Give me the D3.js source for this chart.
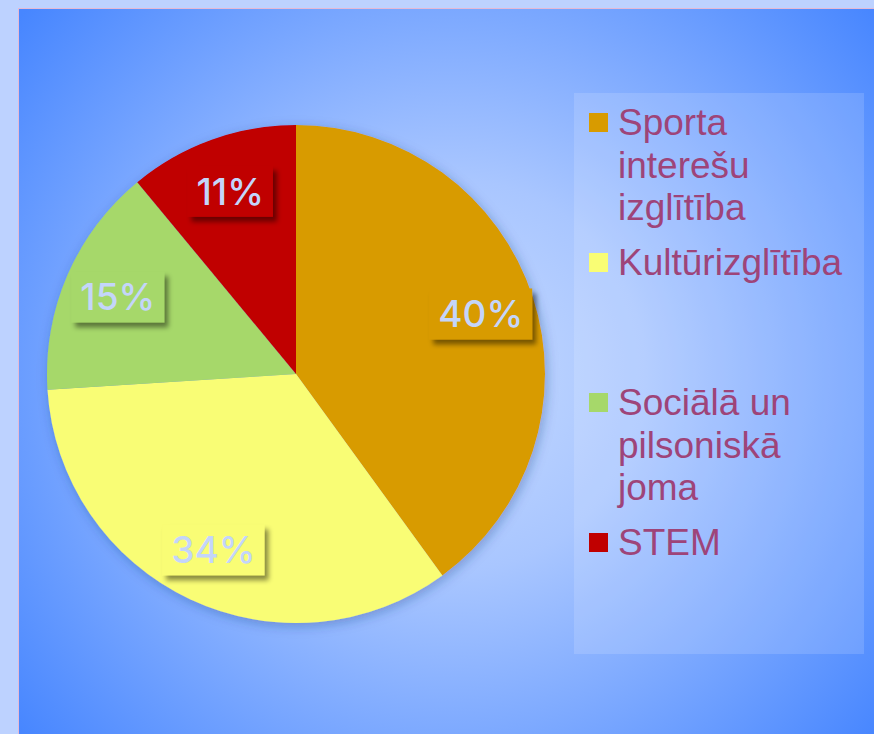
<!DOCTYPE html>
<html>
<head>
<meta charset="utf-8">
<script src="https://cdn.jsdelivr.net/npm/d3@7"></script>
<style>
  html, body { margin: 0; padding: 0; background: #BDD2FF; }
  svg { display: block; }
</style>
</head>
<body>
<svg id="chart" width="874" height="734"></svg>
<script>
// Interest-education areas and their shares (%)
const categories = ["Sporta interešu izglītība", "Kultūrizglītība", "Sociālā un pilsoniskā joma", "STEM"];
const shares = [40, 34, 15, 11];
const colors = ["#D89B00", "#F9FD74", "#A6D86A", "#C00000"];

const W = 874, H = 734;
const svg = d3.select("#chart");
const defs = svg.append("defs");

// Outer page tint and framed chart area with radial blue gradient
svg.append("rect").attr("width", W).attr("height", H).attr("fill", "#BDD2FF");

const area = { x: 19, y: 9, w: W - 19, h: H - 9 };
const grad = defs.append("radialGradient")
  .attr("id", "bg").attr("gradientUnits", "userSpaceOnUse")
  .attr("cx", 450).attr("cy", 375).attr("r", 560);
grad.append("stop").attr("offset", 0).attr("stop-color", "#C6DAFF");
grad.append("stop").attr("offset", 0.35).attr("stop-color", "#A9C6FF");
grad.append("stop").attr("offset", 1).attr("stop-color", "#4786FF");

svg.append("rect")
  .attr("x", area.x - 1).attr("y", area.y - 1)
  .attr("width", area.w + 2).attr("height", area.h + 2)
  .attr("fill", "#E4B9D6");
svg.append("rect")
  .attr("x", area.x).attr("y", area.y)
  .attr("width", area.w).attr("height", area.h)
  .attr("fill", "url(#bg)");

// Shadows
const pieShadow = defs.append("filter").attr("id", "pieShadow")
  .attr("x", "-20%").attr("y", "-20%").attr("width", "140%").attr("height", "140%");
pieShadow.append("feDropShadow").attr("dx", 2).attr("dy", 3).attr("stdDeviation", 6)
  .attr("flood-color", "#1d3b80").attr("flood-opacity", 0.35);

const boxShadow = defs.append("filter").attr("id", "boxShadow")
  .attr("x", "-30%").attr("y", "-30%").attr("width", "160%").attr("height", "160%");
boxShadow.append("feDropShadow").attr("dx", 4).attr("dy", 5).attr("stdDeviation", 2.5)
  .attr("flood-color", "#000").attr("flood-opacity", 0.45);

// Pie
const cx = 296, cy = 374, R = 249;
const pie = d3.pie().sort(null).value(d => d)(shares);
const arc = d3.arc().innerRadius(0).outerRadius(R);
const labelArc = d3.arc().innerRadius(R * 0.78).outerRadius(R * 0.78);

const g = svg.append("g").attr("transform", `translate(${cx},${cy})`);
g.append("g").attr("filter", "url(#pieShadow)")
  .selectAll("path").data(pie).join("path")
  .attr("d", arc)
  .attr("fill", (d, i) => colors[i]);

// Percentage labels in slice-coloured boxes
const lbl = g.selectAll("g.lbl").data(pie).join("g").attr("class", "lbl")
  .attr("transform", d => `translate(${labelArc.centroid(d)})`);
lbl.each(function (d, i) {
  const sel = d3.select(this);
  const txt = sel.append("text")
    .attr("text-anchor", "middle").attr("dy", "0.36em")
    .attr("font-family", "Inter, Lato, sans-serif")
    .attr("font-size", 37).attr("font-weight", 500)
    .attr("fill", "#C4D5FA")
    .text(shares[i] + "%");
  const bb = txt.node().getBBox();
  const padX = 9, bh = 51;
  sel.insert("rect", "text")
    .attr("x", -bb.width / 2 - padX).attr("y", -bh / 2)
    .attr("width", bb.width + 2 * padX).attr("height", bh)
    .attr("fill", colors[i])
    .attr("filter", "url(#boxShadow)");
});

// Legend panel
const panel = { x: 574, y: 93, w: 290, h: 561 };
svg.append("rect")
  .attr("x", panel.x).attr("y", panel.y)
  .attr("width", panel.w).attr("height", panel.h)
  .attr("fill", "#fff").attr("fill-opacity", 0.14);

const fontSize = 37, lineH = 42.5, slot = 140, firstBase = 135;
const textX = 618, maxW = 235;

const legend = svg.append("g");
const measure = svg.append("text")
  .attr("font-family", "Arial, 'Liberation Sans', sans-serif")
  .attr("font-size", fontSize).attr("visibility", "hidden");
function wrap(str) {
  const words = str.split(" ");
  const lines = [];
  let cur = "";
  for (const w of words) {
    const test = cur ? cur + " " + w : w;
    measure.text(test);
    if (cur && measure.node().getComputedTextLength() > maxW) {
      lines.push(cur); cur = w;
    } else cur = test;
  }
  lines.push(cur);
  return lines;
}

categories.forEach((c, i) => {
  const base = firstBase + slot * i;
  legend.append("rect")
    .attr("x", 589).attr("y", base - 22)
    .attr("width", 19).attr("height", 19)
    .attr("fill", colors[i]);
  const t = legend.append("text")
    .attr("font-family", "Arial, 'Liberation Sans', sans-serif")
    .attr("font-size", fontSize).attr("fill", "#9E4479");
  wrap(c).forEach((line, j) => {
    t.append("tspan").attr("x", textX).attr("y", base + j * lineH).text(line);
  });
});
measure.remove();
</script>
</body>
</html>
